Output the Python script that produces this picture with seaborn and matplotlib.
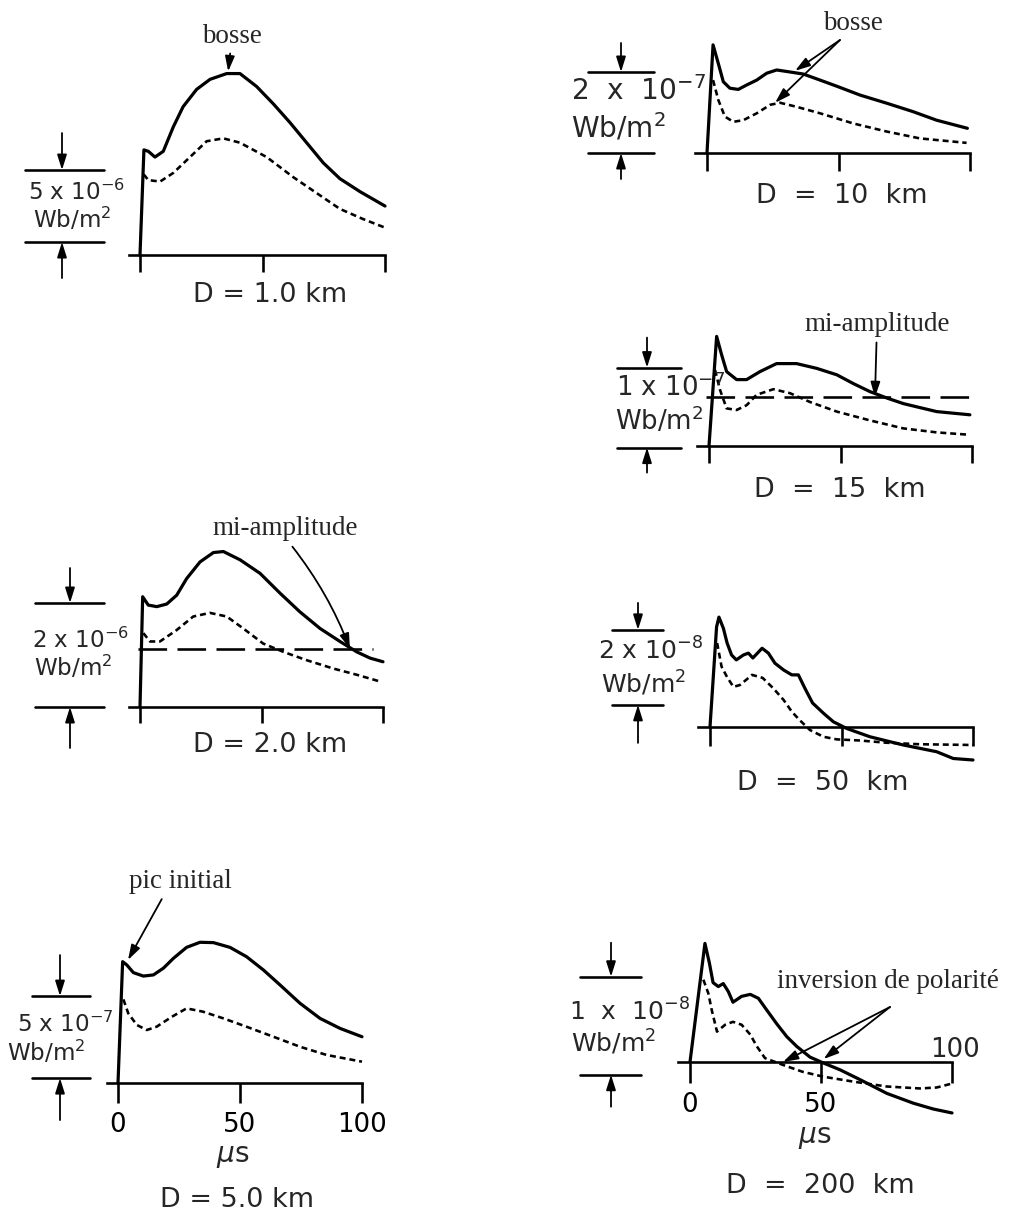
import matplotlib
matplotlib.use("Agg")
import matplotlib.pyplot as plt
import matplotlib.transforms as mtransforms
import seaborn as sns

W, H = 1011, 1216

# time axis in microseconds, field values in units of the panel scale bar exponent
t_1km_s = [0, 1.6, 3.4, 6.1, 9.5, 13.6, 17.6, 23.1, 28.6, 35.4, 40.8, 47.6, 54.4, 61.2, 68.0, 74.8, 81.6, 89.8, 100]
b_1km_s = [0, 7.3, 7.2, 6.8, 7.2, 8.9, 10.3, 11.5, 12.2, 12.6, 12.6, 11.7, 10.5, 9.2, 7.8, 6.4, 5.3, 4.4, 3.4]
t_1km_d = [1.5, 3.4, 8.2, 13.6, 20.4, 27.2, 34.0, 40.8, 51.7, 62.6, 72.1, 81.6, 91.0, 100]
b_1km_d = [5.6, 5.2, 5.1, 5.7, 6.8, 7.9, 8.1, 7.8, 6.8, 5.4, 4.3, 3.2, 2.5, 1.9]

t_10km_s = [0, 2.3, 4.3, 6.2, 8.7, 11.9, 15.1, 18.9, 22.7, 26.5, 31.6, 36.6, 43.0, 49.3, 58.2, 68.3, 78.4, 87.3, 99]
b_10km_s = [0, 2.67, 2.21, 1.76, 1.60, 1.57, 1.68, 1.80, 1.97, 2.05, 2.00, 1.95, 1.80, 1.65, 1.43, 1.23, 1.02, 0.81, 0.61]
t_10km_d = [2.3, 4.3, 6.8, 10.0, 13.8, 18.9, 24.0, 27.8, 34.1, 43.0, 55.6, 68.3, 81.0, 98.7]
b_10km_d = [1.80, 1.31, 0.90, 0.77, 0.81, 0.98, 1.19, 1.24, 1.14, 0.98, 0.73, 0.53, 0.36, 0.25]

t_15km_s = [0, 2.9, 4.8, 6.7, 10.5, 14.3, 19.4, 25.7, 33.3, 41.0, 48.6, 54.9, 61.2, 67.6, 73.9, 80.2, 86.6, 99.2]
b_15km_s = [0, 1.37, 1.14, 0.93, 0.83, 0.83, 0.93, 1.03, 1.03, 0.97, 0.89, 0.78, 0.68, 0.60, 0.53, 0.48, 0.43, 0.39]
t_15km_d = [2.3, 4.2, 6.7, 10.5, 14.3, 18.1, 24.5, 30.8, 38.4, 48.6, 61.2, 73.9, 86.6, 99.2]
b_15km_d = [0.95, 0.70, 0.47, 0.45, 0.51, 0.64, 0.71, 0.66, 0.55, 0.43, 0.32, 0.22, 0.17, 0.14]
half_15km = 0.61

t_2km_s = [0, 1.1, 3.4, 6.9, 11.0, 15.1, 19.2, 24.7, 30.2, 34.3, 41.2, 49.4, 57.6, 65.8, 74.1, 82.3, 89.2, 94.7, 100]
b_2km_s = [0, 2.12, 1.96, 1.93, 1.98, 2.15, 2.47, 2.79, 2.97, 2.99, 2.83, 2.57, 2.19, 1.83, 1.51, 1.26, 1.06, 0.94, 0.87]
t_2km_d = [1.4, 4.1, 8.2, 15.1, 21.9, 28.8, 35.7, 42.5, 50.7, 59.0, 68.6, 79.5, 89.2, 98.8]
b_2km_d = [1.42, 1.26, 1.26, 1.48, 1.74, 1.81, 1.74, 1.51, 1.22, 1.06, 0.90, 0.74, 0.62, 0.49]
half_2km = 1.12

t_50km_s = [0, 2.5, 3.4, 5.1, 6.5, 8.2, 10.0, 12.7, 14.6, 16.3, 19.8, 22.2, 24.7, 28.0, 31.1, 33.6, 36.1,
            39.0, 43.1, 46.9, 52.0, 60.8, 73.5, 86.2, 92.5, 100]
b_50km_s = [0, 2.67, 2.93, 2.63, 2.24, 1.92, 1.79, 1.92, 1.97, 1.84, 2.10, 1.97, 1.70, 1.52, 1.39, 1.39, 1.03,
            0.64, 0.37, 0.14, -0.04, -0.26, -0.48, -0.66, -0.84, -0.88]
t_50km_d = [2.7, 4.4, 6.5, 8.9, 11.4, 16.0, 20.0, 24.1, 28.0, 31.1, 34.0, 38.0, 43.1, 48.2, 57.0, 67.2, 79.8, 100]
b_50km_d = [2.24, 1.61, 1.33, 1.07, 1.12, 1.39, 1.31, 1.03, 0.72, 0.41, 0.19, -0.08, -0.26, -0.33, -0.36, -0.42,
            -0.46, -0.48]

t_5km_s = [0, 1.9, 3.6, 6.3, 10.4, 14.5, 18.6, 22.7, 28.1, 33.6, 39.1, 45.9, 52.7, 59.6, 66.4, 74.6, 82.8, 91.0, 100]
b_5km_s = [0, 7.40, 7.20, 6.73, 6.52, 6.59, 7.00, 7.60, 8.27, 8.58, 8.56, 8.27, 7.70, 6.89, 5.98, 4.86, 3.94, 3.33, 2.82]
t_5km_d = [2.2, 4.2, 7.7, 11.8, 15.8, 22.1, 28.1, 34.8, 43.2, 52.7, 63.7, 74.6, 85.5, 100]
b_5km_d = [5.10, 4.25, 3.54, 3.23, 3.43, 4.04, 4.55, 4.35, 3.94, 3.43, 2.82, 2.21, 1.71, 1.30]

t_200km_s = [0, 5.7, 7.4, 8.8, 10.8, 12.7, 14.6, 16.4, 19.7, 23.0, 26.1, 29.3, 33.1, 36.9, 40.7, 45.8, 50.9,
             57.3, 64.9, 75.1, 85.2, 92.9, 100]
b_200km_s = [0, 1.21, 1.01, 0.81, 0.77, 0.80, 0.72, 0.61, 0.67, 0.69, 0.65, 0.53, 0.39, 0.26, 0.16, 0.05, -0.01,
             -0.08, -0.18, -0.32, -0.42, -0.48, -0.52]
t_200km_d = [5.1, 7.0, 8.3, 10.3, 13.4, 16.4, 19.7, 23.0, 25.5, 28.6, 35.5, 43.0, 50.9, 62.3, 75.1, 87.8, 94.2, 100]
b_200km_d = [0.84, 0.70, 0.53, 0.31, 0.38, 0.41, 0.38, 0.28, 0.16, 0.04, -0.03, -0.10, -0.15, -0.20, -0.25,
             -0.27, -0.26, -0.22]

x_ticks = [0, 50, 100]

sns.set_theme(style="white")
plt.rcParams["font.family"] = ["DejaVu Sans"]
plt.rcParams["mathtext.fontset"] = "dejavusans"
SERIF = "Liberation Serif"

fig = plt.figure(figsize=(W / 72, H / 72), dpi=72)
fig.patch.set_facecolor("white")
# image pixel coordinates (origin top-left) -> display
pix = mtransforms.Affine2D().scale(1 / 72, -1 / 72).translate(0, H / 72) + fig.dpi_scale_trans

ARROW = dict(arrowstyle="-|>,head_length=0.7,head_width=0.22", color="black", lw=1.8,
             mutation_scale=18, shrinkA=0, shrinkB=0)

# layout: origin (px of t=0, B=0), px per µs, px per unit, scale bar geometry in px
panels = [
    dict(ts=t_1km_s, bs=b_1km_s, td=t_1km_d, bd=b_1km_d, origin=(140, 255), sx=2.45, sy=14.4,
         vlim=(-2.5, 13.5), ticklen=17, title="D = 1.0 km", title_xy=(270, 302),
         bar_val=5, bar_base=0.9, bar_x=(25, 104), bar_ax=62, up=37, down=36,
         lab1="5 x 10$^{-6}$", lab1_xy=(28, 200), lab2_xy=(33, 228), labsize=23),
    dict(ts=t_10km_s, bs=b_10km_s, td=t_10km_d, bd=b_10km_d, origin=(707, 153), sx=2.63, sy=40.5,
         vlim=(-0.7, 3.0), ticklen=18, title="D  =  10  km", title_xy=(842, 203),
         bar_val=2, bar_base=0.0, bar_x=(588, 654), bar_ax=621, up=29, down=26,
         lab1="2  x  10$^{-7}$", lab1_xy=(571, 100), lab2_xy=(571, 138), labsize=28),
    dict(ts=t_15km_s, bs=b_15km_s, td=t_15km_d, bd=b_15km_d, origin=(709, 446), sx=2.63, sy=80,
         vlim=(-0.4, 1.5), ticklen=17, title="D  =  15  km", title_xy=(840, 497),
         bar_val=1, bar_base=-0.02, bar_x=(617, 681), bar_ax=647, up=30, down=25,
         lab1="1 x 10$^{-7}$", lab1_xy=(616, 396), lab2_xy=(615, 430), labsize=26,
         half=half_15km, half_span=(-1, 101)),
    dict(ts=t_2km_s, bs=b_2km_s, td=t_2km_d, bd=b_2km_d, origin=(140, 707), sx=2.43, sy=52,
         vlim=(-0.9, 3.2), ticklen=16, title="D = 2.0 km", title_xy=(270, 752),
         bar_val=2, bar_base=0.0, bar_x=(35, 104), bar_ax=70, up=35, down=41,
         lab1="2 x 10$^{-6}$", lab1_xy=(32, 648), lab2_xy=(34, 676), labsize=23,
         half=half_2km, half_span=(-1, 96)),
    dict(ts=t_50km_s, bs=b_50km_s, td=t_50km_d, bd=b_50km_d, origin=(710, 727), sx=2.63, sy=37.5,
         vlim=(-1.2, 3.1), ticklen=19, title="D  =  50  km", title_xy=(823, 790),
         bar_val=2, bar_base=0.59, bar_x=(612, 663), bar_ax=638, up=27, down=38,
         lab1="2 x 10$^{-8}$", lab1_xy=(598, 660), lab2_xy=(601, 693), labsize=25),
    dict(ts=t_5km_s, bs=b_5km_s, td=t_5km_d, bd=b_5km_d, origin=(118, 1083), sx=2.44, sy=16.4,
         vlim=(-2.5, 9.0), ticklen=20, title="D = 5.0 km", title_xy=(237, 1207),
         bar_val=5, bar_base=0.3, bar_x=(32, 90), bar_ax=60, up=41, down=42,
         lab1="5 x 10$^{-7}$", lab1_xy=(17, 1032), lab2_xy=(7, 1061), labsize=23,
         ticklabels=["0", "50", "100"], mu_xy=(233, 1162)),
    dict(ts=t_200km_s, bs=b_200km_s, td=t_200km_d, bd=b_200km_d, origin=(690, 1062), sx=2.62, sy=98,
         vlim=(-0.7, 1.3), ticklen=21, title="D  =  200  km", title_xy=(820, 1193),
         bar_val=1, bar_base=-0.13, bar_x=(580, 641), bar_ax=611, up=34, down=32,
         lab1="1  x  10$^{-8}$", lab1_xy=(569, 1021), lab2_xy=(571, 1052), labsize=25,
         ticklabels=["0", "50", ""], mu_xy=(815, 1143)),
]

axes = []
for p in panels:
    ox, oy = p["origin"]
    t0, t1 = -6, 104
    v0, v1 = p["vlim"]
    left, right = ox + t0 * p["sx"], ox + t1 * p["sx"]
    top, bottom = oy - v1 * p["sy"], oy - v0 * p["sy"]
    ax = fig.add_axes([left / W, 1 - bottom / H, (right - left) / W, (bottom - top) / H])
    ax.patch.set_visible(False)
    ax.set_xlim(t0, t1)
    ax.set_ylim(v0, v1)

    sns.lineplot(x=p["ts"], y=p["bs"], ax=ax, color="black", lw=3.2, sort=False, estimator=None)
    sns.lineplot(x=p["td"], y=p["bd"], ax=ax, color="black", lw=2.6, sort=False, estimator=None,
                 linestyle=(0, (2.3, 1.5)))
    if "half" in p:
        ax.hlines(p["half"], *p["half_span"], color="black", lw=2.6, linestyles=[(0, (11, 4))])

    for side in ["top", "left", "right"]:
        ax.spines[side].set_visible(False)
    ax.spines["bottom"].set_position(("data", 0))
    ax.spines["bottom"].set_bounds(-4.5, 100)
    ax.spines["bottom"].set_linewidth(2.6)
    ax.spines["bottom"].set_color("black")
    ax.set_yticks([])
    ax.set_xticks(x_ticks)
    ax.tick_params(axis="x", direction="out", length=p["ticklen"], width=2.6, color="black",
                   bottom=True, pad=9, labelsize=26, labelcolor="black")
    if "ticklabels" in p:
        ax.set_xticklabels(p["ticklabels"])
    else:
        ax.set_xticklabels([])
    ax.set_xlabel("")
    ax.set_ylabel("")

    # scale bar (x in image pixels, y in data units)
    bt = mtransforms.blended_transform_factory(pix, ax.transData)
    lo, hi = p["bar_base"], p["bar_base"] + p["bar_val"]
    for v in (lo, hi):
        ax.plot(p["bar_x"], [v, v], transform=bt, color="black", lw=2.6, clip_on=False)
    ax.annotate("", xy=(p["bar_ax"], hi), xycoords=bt, xytext=(0, p["up"]), textcoords="offset points",
                arrowprops=ARROW)
    ax.annotate("", xy=(p["bar_ax"], lo), xycoords=bt, xytext=(0, -p["down"]), textcoords="offset points",
                arrowprops=ARROW)
    fig.text(*p["lab1_xy"], p["lab1"], transform=pix, ha="left", va="baseline", fontsize=p["labsize"])
    fig.text(*p["lab2_xy"], "Wb/m$^2$", transform=pix, ha="left", va="baseline", fontsize=p["labsize"])
    fig.text(*p["title_xy"], p["title"], transform=pix, ha="center", va="baseline", fontsize=27)
    if "mu_xy" in p:
        fig.text(*p["mu_xy"], "$\\mu$s", transform=pix, ha="center", va="baseline", fontsize=28)
    axes.append(ax)

ax1, ax10, ax15, ax2, ax50, ax5, ax200 = axes

# annotations
SER = dict(fontsize=27, family=SERIF)
ax1.annotate("bosse", xy=(36, 12.75), xytext=(232, 43), textcoords=pix, ha="center", va="baseline",
             arrowprops=dict(ARROW, shrinkA=2), **SER)

ax10.text(853, 30, "bosse", transform=pix, ha="center", va="baseline", **SER)
ax10.annotate("", xy=(33.5, 2.03), xytext=(840, 40), textcoords=pix, arrowprops=ARROW)
ax10.annotate("", xy=(25.9, 1.24), xytext=(840, 40), textcoords=pix, arrowprops=ARROW)

ax15.annotate("mi-amplitude", xy=(63.1, half_15km), xytext=(877, 331), textcoords=pix, ha="center",
              va="baseline", arrowprops=dict(ARROW, shrinkA=3), **SER)

ax2.annotate("mi-amplitude", xy=(86.4, half_2km), xytext=(285, 535), textcoords=pix, ha="center",
             va="baseline", arrowprops=dict(ARROW, shrinkA=4, relpos=(0.52, 0.0),
                                            connectionstyle="arc3,rad=-0.08"), **SER)

ax5.annotate("pic initial", xy=(4.1, 7.5), xytext=(180, 888), textcoords=pix, ha="center", va="baseline",
             arrowprops=dict(ARROW, shrinkA=3, relpos=(0.35, 0.0)), **SER)

ax200.text(888, 988, "inversion de polarité", transform=pix, ha="center", va="baseline", **SER)
ax200.annotate("", xy=(35.5, 0.0), xytext=(890, 1007), textcoords=pix, arrowprops=ARROW)
ax200.annotate("", xy=(51.0, 0.03), xytext=(890, 1007), textcoords=pix, arrowprops=ARROW)
fig.text(955, 1057, "100", transform=pix, ha="center", va="baseline", fontsize=26)

fig.savefig("out.png", dpi=72, facecolor="white")
plt.close(fig)
